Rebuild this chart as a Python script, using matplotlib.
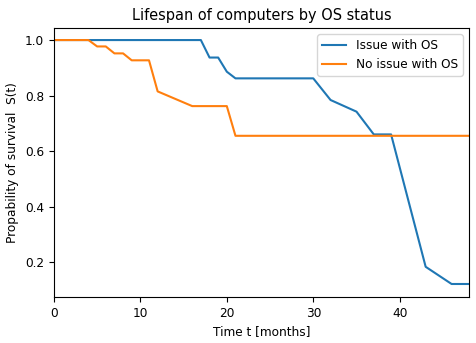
import matplotlib
matplotlib.use('Agg')
import matplotlib.pyplot as plt

# survival curves
t_issue = [0, 17, 18, 19, 20, 21, 30, 32, 35, 37, 39, 43, 46, 48]
s_issue = [1.0, 1.0, 0.937, 0.937, 0.886, 0.862, 0.862, 0.784, 0.742, 0.66, 0.66, 0.183, 0.121, 0.121]

t_no_issue = [0, 4, 5, 6, 7, 8, 9, 11, 12, 16, 20, 21, 48]
s_no_issue = [1.0, 1.0, 0.977, 0.977, 0.952, 0.952, 0.927, 0.927, 0.815, 0.762, 0.762, 0.655, 0.655]

plt.rcParams['font.size'] = 8.7

fig = plt.figure(figsize=(4.77, 3.43), dpi=100)
ax = fig.add_axes([0.113, 0.134, 0.870, 0.784])

ax.plot(t_issue, s_issue, color='tab:blue', label='Issue with OS')
ax.plot(t_no_issue, s_no_issue, color='tab:orange', label='No issue with OS')

ax.set_xlim(0, 48)
ax.set_ylim(0.074, 1.043)
ax.set_xticks([0, 10, 20, 30, 40])
ax.set_yticks([0.2, 0.4, 0.6, 0.8, 1.0])
ax.set_title('Lifespan of computers by OS status')
ax.set_xlabel('Time t [months]')
ax.set_ylabel('Propability of survival  S(t)')
ax.legend(loc='upper right')

fig.savefig('out.png', dpi=100)
